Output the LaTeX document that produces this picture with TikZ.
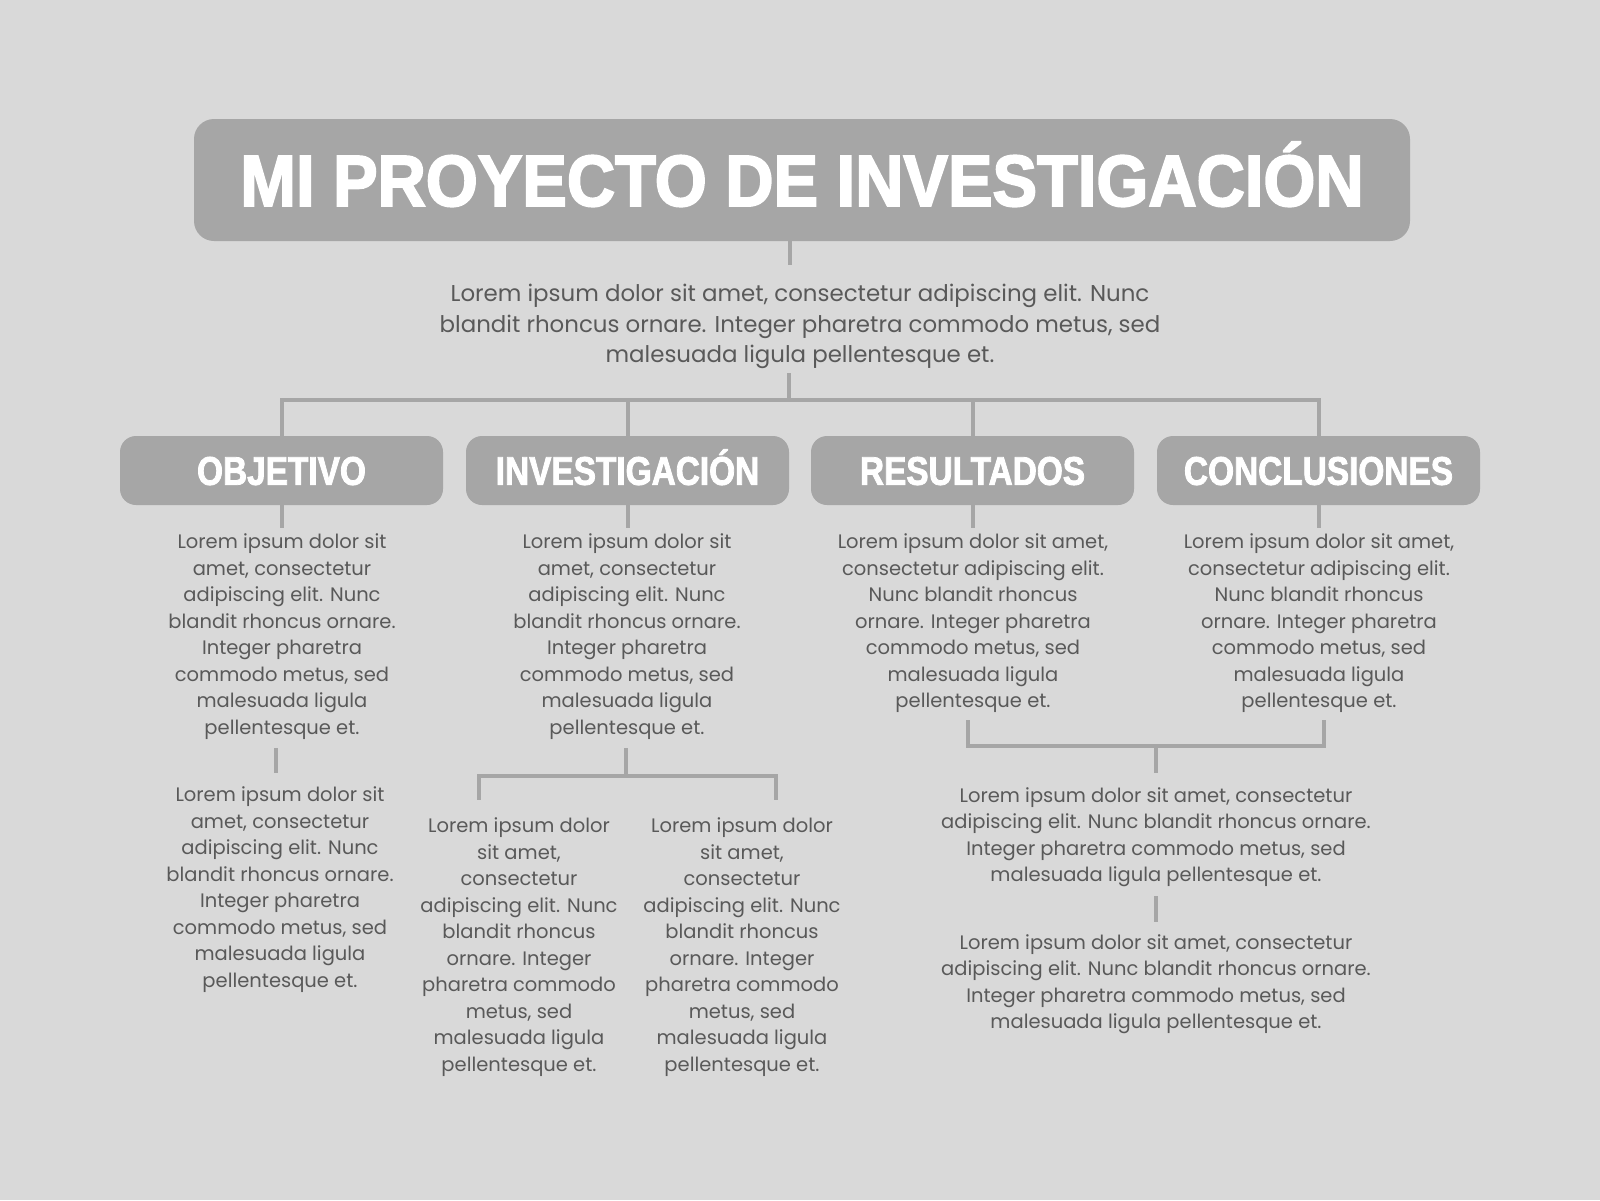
\documentclass[tikz,border=0pt]{standalone}
\usepackage{fontspec}
\setmainfont{Poppins}
\newfontfamily\titlefont[FakeStretch=0.92,FakeBold=2.5]{Liberation Sans}
\newfontfamily\headfont[FakeStretch=0.835,FakeBold=2]{Liberation Sans}
\definecolor{bgc}{HTML}{D9D9D9}
\definecolor{boxc}{HTML}{A6A6A6}
\definecolor{linec}{HTML}{A6A6A6}
\definecolor{txtc}{HTML}{595959}
\tikzset{
  conn/.style={draw=linec, line width=4pt},
  bar/.style={draw=linec, line width=4pt, line cap=rect},
  titlebox/.style={fill=boxc, rounded corners=20pt, minimum width=1216pt, minimum height=122pt, inner sep=0pt, text height=52pt, text depth=0pt, text=white, font=\titlefont\bfseries\fontsize{72.6}{80}\selectfont},
  headbox/.style={fill=boxc, rounded corners=16pt, minimum width=323pt, minimum height=69pt, inner sep=0pt, text height=28.6pt, text depth=0pt, text=white, font=\headfont\bfseries\fontsize{40}{44}\selectfont},
  intro/.style={text=txtc, align=center, inner sep=0pt, font=\fontsize{22.9}{30.6}\selectfont},
  coltext/.style={text=txtc, align=center, inner sep=0pt, font=\fontsize{19.5}{26.5}\selectfont}
}
\begin{document}
\begin{tikzpicture}[x=1pt,y=-1pt]
\fill[bgc] (0,0) rectangle (1600,1200);
\useasboundingbox (0,0) rectangle (1600,1200);
% title
\node[titlebox] (title) at (802,180) {MI PROYECTO DE INVESTIGACIÓN};
\node[intro] (intro) at (800,326.5) {Lorem ipsum dolor sit amet, consectetur adipiscing elit. Nunc\\blandit rhoncus ornare. Integer pharetra commodo metus, sed\\malesuada ligula pellentesque et.};
\coordinate (a0) at (790,265);
\draw[conn] (title.south -| a0) -- (a0);
\coordinate (a1) at (789,373);
\coordinate (barc) at (789,400);
\draw[conn] (a1) -- (barc);
% headers
\node[headbox] (h1) at (281.5,470.5) {OBJETIVO};
\node[headbox] (h2) at (627.5,470.5) {INVESTIGACIÓN};
\node[headbox] (h3) at (972.5,470.5) {RESULTADOS};
\node[headbox] (h4) at (1318.5,470.5) {CONCLUSIONES};
\draw[bar] (h1.north |- barc) -- (h4.north |- barc);
\foreach \h in {h1,h2,h3,h4}{
  \draw[conn] (\h.north |- barc) -- (\h.north);
  \draw[conn] (\h.south) -- ++(0,23);
}
% column texts
\node[coltext] (t1) at (282,636.7) {Lorem ipsum dolor sit\\amet, consectetur\\adipiscing elit. Nunc\\blandit rhoncus ornare.\\Integer pharetra\\commodo metus, sed\\malesuada ligula\\pellentesque et.};
\node[coltext] (t2) at (627,636.7) {Lorem ipsum dolor sit\\amet, consectetur\\adipiscing elit. Nunc\\blandit rhoncus ornare.\\Integer pharetra\\commodo metus, sed\\malesuada ligula\\pellentesque et.};
\node[coltext] (t3) at (973,623.5) {Lorem ipsum dolor sit amet,\\consectetur adipiscing elit.\\Nunc blandit rhoncus\\ornare. Integer pharetra\\commodo metus, sed\\malesuada ligula\\pellentesque et.};
\node[coltext] (t4) at (1319,623.5) {Lorem ipsum dolor sit amet,\\consectetur adipiscing elit.\\Nunc blandit rhoncus\\ornare. Integer pharetra\\commodo metus, sed\\malesuada ligula\\pellentesque et.};
% objetivo second
\coordinate (o1) at (275.5,748);
\coordinate (o2) at (275.5,773);
\draw[conn] (o1) -- (o2);
\node[coltext] (t1b) at (280,889.5) {Lorem ipsum dolor sit\\amet, consectetur\\adipiscing elit. Nunc\\blandit rhoncus ornare.\\Integer pharetra\\commodo metus, sed\\malesuada ligula\\pellentesque et.};
% investigacion split
\node[coltext] (t2a) at (519,947) {Lorem ipsum dolor\\sit amet,\\consectetur\\adipiscing elit. Nunc\\blandit rhoncus\\ornare. Integer\\pharetra commodo\\metus, sed\\malesuada ligula\\pellentesque et.};
\node[coltext] (t2b) at (742,947) {Lorem ipsum dolor\\sit amet,\\consectetur\\adipiscing elit. Nunc\\blandit rhoncus\\ornare. Integer\\pharetra commodo\\metus, sed\\malesuada ligula\\pellentesque et.};
\coordinate (i1) at (625.5,748);
\coordinate (ibar) at (625.5,775.5);
\coordinate (il) at (478.5,775.5);
\coordinate (ir) at (775.5,775.5);
\draw[conn] (i1) -- (ibar);
\draw[bar] (il) -- (ir);
\draw[conn] (il) -- ++(0,24.5);
\draw[conn] (ir) -- ++(0,24.5);
% resultados / conclusiones merge
\coordinate (rl) at (968,746);
\coordinate (rr) at (1323.5,746);
\coordinate (rc) at (1156,746);
\draw[conn] (rl) -- ++(0,-26);
\draw[conn] (rr) -- ++(0,-26);
\draw[bar] (rl) -- (rr);
\draw[conn] (rc) -- ++(0,26.5);
\node[coltext] (t5) at (1156,837) {Lorem ipsum dolor sit amet, consectetur\\adipiscing elit. Nunc blandit rhoncus ornare.\\Integer pharetra commodo metus, sed\\malesuada ligula pellentesque et.};
\coordinate (r1) at (1156,896);
\coordinate (r2) at (1156,921.5);
\draw[conn] (r1) -- (r2);
\node[coltext] (t6) at (1156,984) {Lorem ipsum dolor sit amet, consectetur\\adipiscing elit. Nunc blandit rhoncus ornare.\\Integer pharetra commodo metus, sed\\malesuada ligula pellentesque et.};
\end{tikzpicture}
\end{document}
